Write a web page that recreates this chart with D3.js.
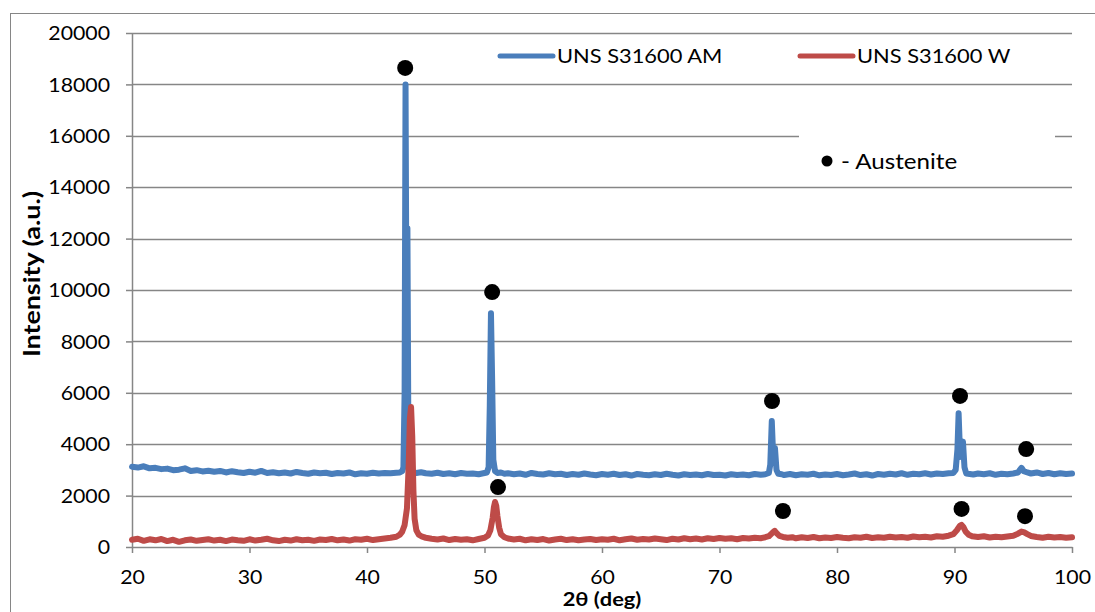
<!DOCTYPE html>
<html>
<head>
<meta charset="utf-8">
<script src="https://cdn.jsdelivr.net/npm/d3@7"></script>
<style>
  html, body { margin: 0; padding: 0; background: #fff; }
  svg { display: block; }
  text { font-family: Lato, "Open Sans", sans-serif; fill: #000; }
</style>
</head>
<body>
<svg id="chart" width="1095" height="612"></svg>
<script>
// XRD scans: [2θ (deg), intensity (a.u.)]
const scanAM = [
  [20,3120],[20.5,3090],[21,3140],[21.5,3060],[22,3080],[22.5,3030],[23,3050],[23.5,2990],[24,3010],[24.5,3060],
  [25,2960],[25.5,2990],[26,2940],[26.5,2970],[27,2930],[27.5,2960],[28,2900],[28.5,2950],[29,2910],[29.5,2880],
  [30,2930],[30.5,2890],[31,2960],[31.5,2880],[32,2910],[32.5,2870],[33,2900],[33.5,2860],[34,2920],[34.5,2880],
  [35,2850],[35.5,2900],[36,2870],[36.5,2890],[37,2840],[37.5,2880],[38,2860],[38.5,2900],[39,2830],[39.5,2870],
  [40,2850],[40.5,2890],[41,2860],[41.5,2880],[42,2870],[42.5,2890],[42.8,2900],[43.0,2950],[43.1,3100],[43.2,6000],
  [43.28,18000],[43.36,9000],[43.44,12400],[43.52,4500],[43.6,3100],[43.7,2950],[43.9,2900],[44.2,2880],[44.6,2910],[45,2870],
  [45.5,2850],[46,2890],[46.5,2840],[47,2870],[47.5,2830],[48,2880],[48.5,2850],[49,2860],[49.5,2830],[50,2880],
  [50.2,2900],[50.35,3100],[50.45,5500],[50.55,9100],[50.65,6500],[50.75,3400],[50.9,2950],[51.1,2880],[51.4,2900],[51.7,2850],
  [52,2870],[52.5,2830],[53,2860],[53.5,2810],[54,2880],[54.5,2840],[55,2820],[55.5,2870],[56,2830],[56.5,2850],
  [57,2800],[57.5,2840],[58,2810],[58.5,2860],[59,2820],[59.5,2790],[60,2840],[60.5,2810],[61,2850],[61.5,2800],
  [62,2830],[62.5,2780],[63,2840],[63.5,2810],[64,2790],[64.5,2830],[65,2800],[65.5,2850],[66,2810],[66.5,2780],
  [67,2830],[67.5,2800],[68,2820],[68.5,2790],[69,2840],[69.5,2800],[70,2810],[70.5,2780],[71,2830],[71.5,2800],
  [72,2820],[72.5,2790],[73,2840],[73.5,2810],[73.9,2830],[74.2,2880],[74.32,3200],[74.45,4900],[74.58,3400],[74.72,3850],
  [74.85,3000],[75.0,2850],[75.3,2830],[75.5,2800],[76,2840],[76.5,2790],[77,2830],[77.5,2810],[78,2850],[78.5,2790],
  [79,2820],[79.5,2800],[80,2840],[80.5,2790],[81,2820],[81.5,2860],[82,2800],[82.5,2830],[83,2780],[83.5,2840],
  [84,2810],[84.5,2850],[85,2820],[85.5,2870],[86,2810],[86.5,2850],[87,2830],[87.5,2870],[88,2820],[88.5,2860],
  [89,2840],[89.5,2870],[89.9,2880],[90.1,3000],[90.25,3800],[90.35,5200],[90.48,3500],[90.6,3700],[90.72,4100],[90.85,3100],
  [91.0,2860],[91.3,2840],[91.6,2820],[92,2860],[92.5,2830],[93,2870],[93.5,2810],[94,2850],[94.5,2830],[95,2860],
  [95.4,2900],[95.7,3080],[95.9,2950],[96.2,2900],[96.5,2860],[97,2900],[97.5,2840],[98,2880],[98.5,2830],[99,2870],
  [99.5,2840],[100,2860]
];

const scanW = [
  [20,280],[20.5,320],[21,240],[21.5,300],[22,260],[22.5,310],[23,230],[23.5,280],[24,200],[24.5,260],
  [25,290],[25.5,240],[26,270],[26.5,300],[27,250],[27.5,280],[28,230],[28.5,290],[29,260],[29.5,240],
  [30,300],[30.5,250],[31,280],[31.5,320],[32,260],[32.5,230],[33,280],[33.5,250],[34,300],[34.5,260],
  [35,280],[35.5,240],[36,290],[36.5,270],[37,310],[37.5,260],[38,290],[38.5,250],[39,300],[39.5,280],
  [40,320],[40.5,270],[41,300],[41.5,330],[42,360],[42.5,400],[42.8,480],[43.0,600],[43.2,850],[43.4,1500],
  [43.55,3200],[43.65,5000],[43.75,5450],[43.85,4300],[43.95,2200],[44.05,1100],[44.2,650],[44.4,480],[44.7,400],[45,360],
  [45.5,320],[46,290],[46.5,330],[47,270],[47.5,310],[48,280],[48.5,300],[49,260],[49.5,310],[50,360],
  [50.3,450],[50.5,650],[50.7,1150],[50.8,1550],[50.9,1750],[51.0,1600],[51.1,1200],[51.25,750],[51.4,500],[51.7,380],
  [52,330],[52.5,290],[53,320],[53.5,260],[54,300],[54.5,270],[55,310],[55.5,250],[56,290],[56.5,320],
  [57,270],[57.5,300],[58,260],[58.5,290],[59,310],[59.5,270],[60,300],[60.5,280],[61,320],[61.5,260],
  [62,300],[62.5,330],[63,280],[63.5,310],[64,290],[64.5,330],[65,300],[65.5,270],[66,320],[66.5,290],
  [67,340],[67.5,300],[68,330],[68.5,290],[69,340],[69.5,310],[70,350],[70.5,320],[71,340],[71.5,300],
  [72,350],[72.5,330],[73,360],[73.5,340],[73.9,380],[74.2,420],[74.5,550],[74.7,630],[74.9,520],[75.1,430],
  [75.4,390],[75.8,360],[76.2,380],[76.5,340],[77,380],[77.5,350],[78,390],[78.5,340],[79,370],[79.5,350],
  [80,390],[80.5,360],[81,340],[81.5,380],[82,360],[82.5,400],[83,350],[83.5,380],[84,360],[84.5,400],
  [85,370],[85.5,390],[86,360],[86.5,410],[87,380],[87.5,400],[88,370],[88.5,420],[89,400],[89.5,440],
  [89.9,500],[90.2,650],[90.45,820],[90.6,860],[90.75,780],[90.95,600],[91.2,480],[91.5,420],[92,390],[92.5,420],
  [93,370],[93.5,400],[94,380],[94.5,410],[95,440],[95.4,520],[95.7,600],[95.9,580],[96.2,500],[96.5,430],
  [97,390],[97.5,360],[98,400],[98.5,370],[99,390],[99.5,360],[100,380]
];

// Austenite reflection markers [2θ, intensity]
const austeniteAM = [[43.25,18640],[50.65,9920],[74.47,5680],[90.47,5880],[96.1,3810]];
const austeniteW  = [[51.15,2330],[75.4,1400],[90.6,1480],[96.0,1200]];

// Axis ticks and labels
const xTicks = [20,30,40,50,60,70,80,90,100];
const yTicks = [0,2000,4000,6000,8000,10000,12000,14000,16000,18000,20000];
const seriesNames = ["UNS S31600 AM","UNS S31600 W"];
const seriesColors = ["#4A7EBB","#BE4B48"];
const xTitle = "2θ (deg)";
const yTitle = "Intensity (a.u.)";
const markerLabel = "- Austenite";

const svg = d3.select("#chart");
const SX = 1.15; // horizontal glyph stretch
const gridColor = "#868686";

const plotL = 132, plotR = 1072, plotT = 33, plotB = 547;
const x = d3.scaleLinear().domain([20,100]).range([plotL,plotR]);
const y = d3.scaleLinear().domain([0,20000]).range([plotB,plotT]);

// outer chart frame
svg.append("rect").attr("x",10.5).attr("y",13.5).attr("width",1200).attr("height",700)
  .attr("fill","none").attr("stroke",gridColor).attr("stroke-width",1);

// horizontal gridlines
svg.append("g").selectAll("line").data(yTicks.filter(d => d > 0)).join("line")
  .attr("x1",plotL).attr("x2",plotR)
  .attr("y1",d => Math.round(y(d)) + 0.5).attr("y2",d => Math.round(y(d)) + 0.5)
  .attr("stroke",gridColor).attr("stroke-width",1.5);

// y axis
const yAxis = svg.append("g").attr("transform",`translate(${plotL},0)`)
  .call(d3.axisLeft(y).tickValues(yTicks).tickSize(6).tickSizeOuter(0).tickFormat(d3.format("d")));
yAxis.select(".domain").attr("stroke",gridColor).attr("stroke-width",1.5);
yAxis.selectAll(".tick line").attr("stroke",gridColor).attr("stroke-width",1.5);
yAxis.selectAll(".tick text")
  .attr("x",-22/SX).attr("dy","0.36em")
  .attr("transform",`scale(${SX},1)`)
  .style("font-family","Lato").style("font-size","18.5px");

// x axis
const xAxis = svg.append("g").attr("transform",`translate(0,${plotB})`)
  .call(d3.axisBottom(x).tickValues(xTicks).tickSize(6).tickSizeOuter(0));
xAxis.select(".domain").attr("stroke",gridColor).attr("stroke-width",1.5);
xAxis.selectAll(".tick line").attr("stroke",gridColor).attr("stroke-width",1.5);
xAxis.selectAll(".tick text")
  .attr("y",37).attr("dy",0).attr("x",0)
  .attr("transform",`scale(${SX},1)`)
  .style("font-family","Lato").style("font-size","18.5px");

function stretchedText(tx, ty, str, size, weight, anchor) {
  return svg.append("g").attr("transform",`translate(${tx},${ty}) scale(${SX},1)`)
    .append("text").text(str)
    .attr("text-anchor",anchor || "start")
    .style("font-size",size + "px").style("font-weight",weight || "normal");
}

// axis titles
stretchedText((plotL+plotR)/2, 606, xTitle, 19, "bold", "middle");
svg.append("text")
  .attr("transform",`translate(40,274) rotate(-90) scale(1.22,1)`)
  .attr("text-anchor","middle")
  .style("font-size","22px").style("font-weight","bold")
  .text(yTitle);

// white panel behind the marker key
svg.append("rect").attr("x",799).attr("y",125).attr("width",256).attr("height",56).attr("fill","#fff");

// series
const line = d3.line().x(d => x(d[0])).y(d => y(d[1]));
[scanAM, scanW].forEach((scan,i) => {
  svg.append("path").datum(scan)
    .attr("d",line).attr("fill","none")
    .attr("stroke",seriesColors[i]).attr("stroke-width",6)
    .attr("stroke-linejoin","round").attr("stroke-linecap","round");
});

// austenite markers
svg.append("g").selectAll("circle").data(austeniteAM.concat(austeniteW)).join("circle")
  .attr("cx",d => x(d[0])).attr("cy",d => y(d[1])).attr("r",8).attr("fill","#000");

// legend
const legendX = [500, 800];
seriesNames.forEach((name,i) => {
  svg.append("line").attr("x1",legendX[i]).attr("x2",legendX[i]+53).attr("y1",56).attr("y2",56)
    .attr("stroke",seriesColors[i]).attr("stroke-width",5).attr("stroke-linecap","round");
  stretchedText(legendX[i]+57, 63, name, 19);
});

// marker key
svg.append("circle").attr("cx",827).attr("cy",161).attr("r",5.5).attr("fill","#000");
stretchedText(841, 169, markerLabel, 21);
</script>
</body>
</html>
